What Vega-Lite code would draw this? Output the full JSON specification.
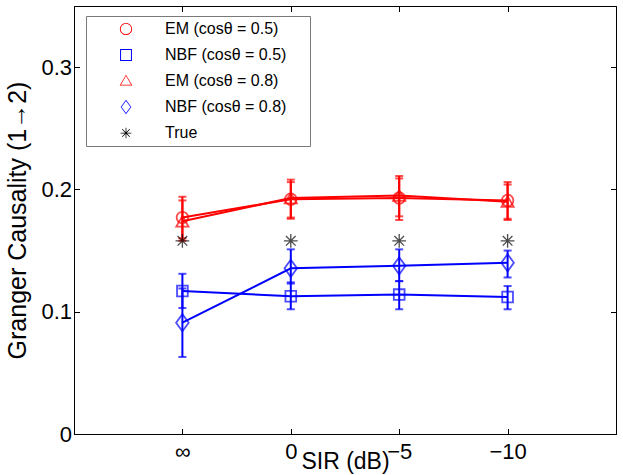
{
  "$schema": "https://vega.github.io/schema/vega-lite/v6.json",
  "width": 542,
  "height": 428,
  "autosize": "none",
  "padding": {"left": 74, "top": 6, "right": 7, "bottom": 41},
  "background": "white",
  "config": {
    "font": "Liberation Sans",
    "view": {"stroke": "black", "strokeWidth": 1},
    "axis": {
      "grid": false,
      "domainColor": "black",
      "domainWidth": 1,
      "tickColor": "black",
      "tickWidth": 1,
      "tickSize": -5.5,
      "labelColor": "black",
      "labelFontSize": 22,
      "titleFontSize": 23,
      "titleFontWeight": "normal",
      "titleColor": "black"
    }
  },
  "data": {
    "values": [
      {"pos": 1, "series": "EM (cosθ = 0.5)", "gc": 0.177, "lo": 0.160, "hi": 0.194},
      {"pos": 2, "series": "EM (cosθ = 0.5)", "gc": 0.192, "lo": 0.176, "hi": 0.208},
      {"pos": 3, "series": "EM (cosθ = 0.5)", "gc": 0.193, "lo": 0.175, "hi": 0.211},
      {"pos": 4, "series": "EM (cosθ = 0.5)", "gc": 0.191, "lo": 0.176, "hi": 0.206},
      {"pos": 1, "series": "NBF (cosθ = 0.5)", "gc": 0.117, "lo": 0.103, "hi": 0.131},
      {"pos": 2, "series": "NBF (cosθ = 0.5)", "gc": 0.1126, "lo": 0.102, "hi": 0.124},
      {"pos": 3, "series": "NBF (cosθ = 0.5)", "gc": 0.114, "lo": 0.102, "hi": 0.125},
      {"pos": 4, "series": "NBF (cosθ = 0.5)", "gc": 0.112, "lo": 0.102, "hi": 0.121},
      {"pos": 1, "series": "EM (cosθ = 0.8)", "gc": 0.174, "lo": 0.158, "hi": 0.191},
      {"pos": 2, "series": "EM (cosθ = 0.8)", "gc": 0.193, "lo": 0.177, "hi": 0.206},
      {"pos": 3, "series": "EM (cosθ = 0.8)", "gc": 0.195, "lo": 0.178, "hi": 0.209},
      {"pos": 4, "series": "EM (cosθ = 0.8)", "gc": 0.190, "lo": 0.175, "hi": 0.204},
      {"pos": 1, "series": "NBF (cosθ = 0.8)", "gc": 0.091, "lo": 0.063, "hi": 0.119},
      {"pos": 2, "series": "NBF (cosθ = 0.8)", "gc": 0.1355, "lo": 0.123, "hi": 0.151},
      {"pos": 3, "series": "NBF (cosθ = 0.8)", "gc": 0.1375, "lo": 0.125, "hi": 0.151},
      {"pos": 4, "series": "NBF (cosθ = 0.8)", "gc": 0.140, "lo": 0.128, "hi": 0.150},
      {"pos": 1, "series": "True", "gc": 0.158},
      {"pos": 2, "series": "True", "gc": 0.158},
      {"pos": 3, "series": "True", "gc": 0.158},
      {"pos": 4, "series": "True", "gc": 0.158}
    ]
  },
  "resolve": {"axis": {"x": "independent", "y": "independent"}},
  "layer": [
    {
      "transform": [{"filter": "datum.pos > 10"}],
      "mark": {"type": "point", "filled": true, "opacity": 1},
      "encoding": {
        "x": {
          "field": "pos", "type": "quantitative",
          "scale": {"domain": [0, 5], "nice": false, "zero": false},
          "axis": {
            "orient": "bottom",
            "values": [1, 2, 3, 4],
            "labelExpr": "datum.value == 1 ? '∞' : datum.value == 2 ? '0' : datum.value == 3 ? '−5' : '−10'",
            "labelPadding": 13,
            "title": "SIR (dB)",
            "titleY": 34,
            "titleBaseline": "alphabetic"
          }
        },
        "y": {
          "field": "gc", "type": "quantitative",
          "scale": {"domain": [0, 0.35], "nice": false, "zero": false},
          "axis": {
            "orient": "left",
            "values": [0, 0.1, 0.2, 0.3],
            "format": "~g",
            "labelPadding": 8,
            "title": "Granger Causality (1→2)",
            "titleFontSize": 25,
            "titlePadding": 10
          }
        },
        "fill": {
          "field": "series", "type": "nominal",
          "scale": {
            "domain": ["EM (cosθ = 0.5)", "NBF (cosθ = 0.5)", "EM (cosθ = 0.8)", "NBF (cosθ = 0.8)", "True"],
            "range": ["#ff0000", "#0000ff", "#ff0000", "#0000ff", "#000000"]
          },
          "legend": {
            "orient": "none",
            "legendX": 12,
            "legendY": 10,
            "title": " ",
            "titleOrient": "right",
            "titlePadding": 19,
            "titleFontSize": 16,
            "padding": 5,
            "fillColor": "white",
            "strokeColor": "#7a7a7a",
            "labelFontSize": 16,
            "labelColor": "black",
            "labelFont": "Liberation Sans",
            "symbolStrokeWidth": 0,
            "symbolOffset": 27,
            "labelOffset": 31,
            "rowPadding": 10
          }
        },
        "shape": {
          "field": "series", "type": "nominal",
          "scale": {
            "domain": ["EM (cosθ = 0.5)", "NBF (cosθ = 0.5)", "EM (cosθ = 0.8)", "NBF (cosθ = 0.8)", "True"],
            "range": [
              "M1,0A1,1,0,1,1,-1,0A1,1,0,1,1,1,0ZM0.85,0A0.85,0.85,0,1,0,-0.85,0A0.85,0.85,0,1,0,0.85,0Z",
              "M-1,-1L1,-1L1,1L-1,1ZM-0.83,-0.83L-0.83,0.83L0.83,0.83L0.83,-0.83Z",
              "M0,-1.1L1.1,0.8L-1.1,0.8ZM0,-0.85L-0.88,0.67L0.88,0.67Z",
              "M0,-1.3L0.95,0L0,1.3L-0.95,0ZM0,-1.1L-0.8,0L0,1.1L0.8,0Z",
              "M-1,-0.07L1,-0.07L1,0.07L-1,0.07ZM-0.07,-1L0.07,-1L0.07,1L-0.07,1ZM-0.65,-0.75L0.75,0.65L0.65,0.75L-0.75,-0.65ZM-0.65,0.75L-0.75,0.65L0.65,-0.75L0.75,-0.65Z"
            ]
          }
        },
        "size": {
          "field": "series", "type": "nominal",
          "scale": {
            "domain": ["EM (cosθ = 0.5)", "NBF (cosθ = 0.5)", "EM (cosθ = 0.8)", "NBF (cosθ = 0.8)", "True"],
            "range": [150, 115, 150, 150, 169]
          }
        }
      }
    },
    {
      "transform": [{"filter": "datum.series != 'True'"}],
      "mark": {"type": "line", "strokeWidth": 2},
      "encoding": {
        "x": {"field": "pos", "type": "quantitative", "axis": null},
        "y": {"field": "gc", "type": "quantitative", "axis": null},
        "color": {
          "field": "series", "type": "nominal", "legend": null,
          "scale": {
            "domain": ["EM (cosθ = 0.5)", "NBF (cosθ = 0.5)", "EM (cosθ = 0.8)", "NBF (cosθ = 0.8)", "True"],
            "range": ["#ff0000", "#0000ff", "#ff0000", "#0000ff", "#000000"]
          }
        },
        "detail": {"field": "series", "type": "nominal"}
      }
    },
    {
      "transform": [{"filter": "datum.series != 'True'"}],
      "mark": {"type": "rule", "strokeWidth": 2},
      "encoding": {
        "x": {"field": "pos", "type": "quantitative", "axis": null},
        "y": {"field": "lo", "type": "quantitative", "axis": null},
        "y2": {"field": "hi"},
        "color": {"field": "series", "type": "nominal", "legend": null}
      }
    },
    {
      "transform": [{"filter": "datum.series != 'True'"}],
      "mark": {"type": "tick", "orient": "horizontal", "size": 8, "thickness": 2},
      "encoding": {
        "x": {"field": "pos", "type": "quantitative", "axis": null},
        "y": {"field": "lo", "type": "quantitative", "axis": null},
        "color": {"field": "series", "type": "nominal", "legend": null}
      }
    },
    {
      "transform": [{"filter": "datum.series != 'True'"}],
      "mark": {"type": "tick", "orient": "horizontal", "size": 8, "thickness": 2},
      "encoding": {
        "x": {"field": "pos", "type": "quantitative", "axis": null},
        "y": {"field": "hi", "type": "quantitative", "axis": null},
        "color": {"field": "series", "type": "nominal", "legend": null}
      }
    },
    {
      "transform": [{"filter": "datum.series == 'EM (cosθ = 0.5)'"}],
      "mark": {"type": "point", "filled": false, "strokeWidth": 1.8, "color": "#ff0000", "shape": "circle", "size": 133},
      "encoding": {
        "x": {"field": "pos", "type": "quantitative", "axis": null},
        "y": {"field": "gc", "type": "quantitative", "axis": null}
      }
    },
    {
      "transform": [{"filter": "datum.series == 'NBF (cosθ = 0.5)'"}],
      "mark": {"type": "point", "filled": false, "strokeWidth": 1.8, "color": "#0000ff", "shape": "square", "size": 115},
      "encoding": {
        "x": {"field": "pos", "type": "quantitative", "axis": null},
        "y": {"field": "gc", "type": "quantitative", "axis": null}
      }
    },
    {
      "transform": [{"filter": "datum.series == 'EM (cosθ = 0.8)'"}],
      "mark": {"type": "point", "filled": false, "strokeWidth": 1.8, "color": "#ff0000", "shape": "triangle-up", "size": 150},
      "encoding": {
        "x": {"field": "pos", "type": "quantitative", "axis": null},
        "y": {"field": "gc", "type": "quantitative", "axis": null}
      }
    },
    {
      "transform": [{"filter": "datum.series == 'NBF (cosθ = 0.8)'"}],
      "mark": {"type": "point", "filled": false, "strokeWidth": 1.8, "color": "#0000ff", "shape": "M0,-1.3L0.95,0L0,1.3L-0.95,0Z", "size": 175},
      "encoding": {
        "x": {"field": "pos", "type": "quantitative", "axis": null},
        "y": {"field": "gc", "type": "quantitative", "axis": null}
      }
    },
    {
      "transform": [{"filter": "datum.series == 'True'"}],
      "mark": {"type": "point", "filled": false, "strokeWidth": 1.3, "color": "black", "size": 190,
               "shape": "M-1,0L1,0M0,-1L0,1M-0.7,-0.7L0.7,0.7M-0.7,0.7L0.7,-0.7"},
      "encoding": {
        "x": {"field": "pos", "type": "quantitative", "axis": null},
        "y": {"field": "gc", "type": "quantitative", "axis": null}
      }
    },
    {
      "mark": {"type": "point", "opacity": 0},
      "encoding": {
        "x": {
          "field": "pos", "type": "quantitative",
          "axis": {"orient": "top", "values": [1, 2, 3, 4], "labels": false, "title": null}
        },
        "y": {
          "field": "gc", "type": "quantitative",
          "axis": {"orient": "right", "values": [0, 0.1, 0.2, 0.3], "labels": false, "title": null}
        }
      }
    }
  ]
}
